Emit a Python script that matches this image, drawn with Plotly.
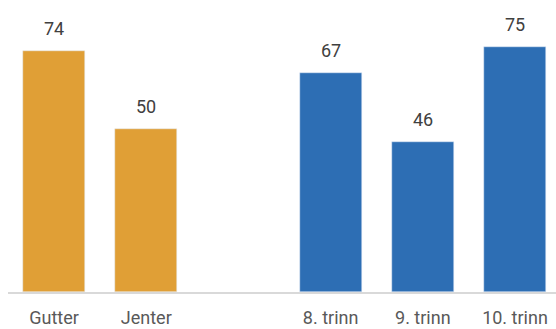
import plotly.graph_objects as go

# Andel (prosent) etter kjønn og trinn
kjonn = ['Gutter', 'Jenter']
kjonn_verdier = [74, 50]

trinn = ['8. trinn', '9. trinn', '10. trinn']
trinn_verdier = [67, 46, 75]

# tom kategori som mellomrom mellom gruppene
kategorier = kjonn + [' '] + trinn

fig = go.Figure()
fig.add_trace(go.Bar(x=kjonn, y=kjonn_verdier, marker_color='#E09F36', width=0.675))
fig.add_trace(go.Bar(x=trinn, y=trinn_verdier, marker_color='#2D6EB4', width=0.675))

# verdietiketter over søylene
for x, y in zip(kjonn + trinn, kjonn_verdier + trinn_verdier):
    fig.add_annotation(x=x, y=y, text=str(y), showarrow=False,
                       yanchor='bottom', yshift=10,
                       font=dict(size=18, color='#404040'))

fig.update_layout(
    width=556,
    height=329,
    margin=dict(l=8, r=0, t=0, b=37),
    showlegend=False,
    bargap=0,
    plot_bgcolor='white',
    paper_bgcolor='white',
    font=dict(family='Roboto', size=18, color='#595959'),
    xaxis=dict(
        type='category',
        categoryorder='array',
        categoryarray=kategorier,
        range=[-0.5, 5.445],
        automargin=False,
        showgrid=False,
        showline=True,
        linecolor='#D9D9D9',
        linewidth=2,
        ticks='outside',
        ticklen=8,
        tickcolor='rgba(0,0,0,0)',
        tickfont=dict(size=18, color='#595959'),
    ),
    yaxis=dict(range=[0, 89.5], visible=False, showgrid=False, zeroline=False),
)

# fjern standardmargen rundt siden
fig.write_html('out.html', config={'displayModeBar': False},
               post_script="document.body.style.margin='0';")
